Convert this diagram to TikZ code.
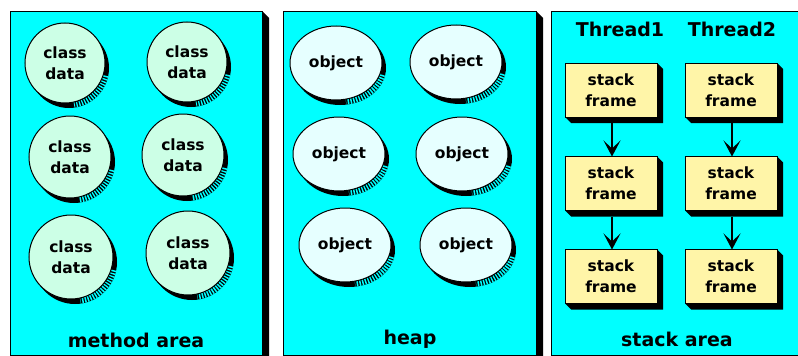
\documentclass[tikz,border=0pt]{standalone}
\usepackage{fontspec}
\setmainfont{DejaVu Sans}
\usetikzlibrary{arrows.meta,calc,shapes.geometric}
\definecolor{panelc}{HTML}{00FFFF}
\definecolor{discc}{HTML}{CCFFE6}
\definecolor{objc}{HTML}{E6FFFF}
\definecolor{framec}{HTML}{FFF5A8}
\newcommand\mydisc[4]{%
  \fill[black] (#2+4,#3+5) circle[radius=#4];
  \begin{scope}
    \clip (#2+4,#3+5) circle[radius=#4];
    \draw[hatch] (#2+4,#3+5) ++(12:#4) arc[start angle=12,end angle=82,radius=#4];
  \end{scope}
  \node[disc,minimum size={2*#4 pt}] (#1) at (#2,#3) {class\\data};
}
\newcommand\myobj[3]{%
  \fill[black] (#2+4,#3+5) ellipse[x radius=46,y radius=37];
  \begin{scope}
    \clip (#2+4,#3+5) ellipse[x radius=46,y radius=37];
    \draw[hatch] (#2+4,#3+5) ++(12:46 and 37) arc[start angle=12,end angle=82,x radius=46,y radius=37];
  \end{scope}
  \node[obj] (#1) at (#2,#3) {object};
}
\newcommand\myframe[3]{%
  \node[sframe] (#1) at (#2,#3) {stack\\frame};
  \fill[black] (#1.north east) -- ++(6,6) -- ($(#1.south east)+(6,6)$) -- ($(#1.south west)+(6,6)$) -- (#1.south west) -- (#1.south east) -- cycle;
}
\begin{document}
\begin{tikzpicture}[x=1pt,y=-1pt,
  panel/.style={draw=black,line width=1pt,fill=panelc},
  hatch/.style={panelc,line width=12pt,dash pattern=on 1.5pt off 1.5pt},
  disc/.style={circle,draw=black,line width=1pt,fill=discc,inner sep=0pt,outer sep=0pt,align=center,font=\fontsize{15.5}{21}\selectfont\bfseries},
  obj/.style={ellipse,draw=black,line width=1pt,fill=objc,inner sep=0pt,outer sep=0pt,minimum width=92pt,minimum height=74pt,font=\fontsize{15.5}{21}\selectfont\bfseries},
  sframe/.style={rectangle,draw=black,line width=1pt,fill=framec,inner sep=0pt,outer sep=0pt,minimum width=92pt,minimum height=54pt,align=center,font=\fontsize{15.5}{21}\selectfont\bfseries},
  lbl/.style={font=\fontsize{19}{22}\selectfont\bfseries,anchor=base,inner sep=0pt},
  link/.style={line width=1.3pt,-{Stealth[length=16pt,width=17pt,inset=8pt]}}
]
\useasboundingbox (0,0) rectangle (798,356);
\clip (0,0) rectangle (798,356);
\fill[white] (0,0) rectangle (798,356);

% panels
\fill[black] (262,11) -- (269,18) -- (269,357) -- (262,357) -- cycle;
\draw[panel] (10,11) rectangle (262,355);
\fill[black] (536,11) -- (543,18) -- (543,357) -- (536,357) -- cycle;
\draw[panel] (283,11) rectangle (536,355);
\draw[panel] (551,11) rectangle (806,355);

% method area
\mydisc{c1}{65}{63}{40}
\mydisc{c2}{187}{62}{40}
\mydisc{c3}{70}{157}{41}
\mydisc{c4}{183}{155}{41}
\mydisc{c5}{71}{257}{42}
\mydisc{c6}{188}{253}{42}
\node[lbl] (ma) at (136,347) {method area};

% heap
\myobj{o1}{336}{63}
\myobj{o2}{456}{62}
\myobj{o3}{339}{154}
\myobj{o4}{462}{154}
\myobj{o5}{345}{245}
\myobj{o6}{466}{245}
\node[lbl] (hp) at (410,344) {heap};

% stack area
\node[lbl] (t1) at (620,36) {Thread1};
\node[lbl] (t2) at (732,36) {Thread2};
\myframe{f11}{611}{90}
\myframe{f12}{611}{183.5}
\myframe{f13}{611}{276.5}
\myframe{f21}{731}{90}
\myframe{f22}{731}{183.5}
\myframe{f23}{731}{276.5}
\draw[link] ($(f11.south)+(1,6)$) -- ($(f12.north)+(1,0)$);
\draw[link] ($(f12.south)+(1,6)$) -- ($(f13.north)+(1,0)$);
\draw[link] ($(f21.south)+(1,6)$) -- ($(f22.north)+(1,0)$);
\draw[link] ($(f22.south)+(1,6)$) -- ($(f23.north)+(1,0)$);
\node[lbl] (sa) at (677,346) {stack area};
\end{tikzpicture}
\end{document}
